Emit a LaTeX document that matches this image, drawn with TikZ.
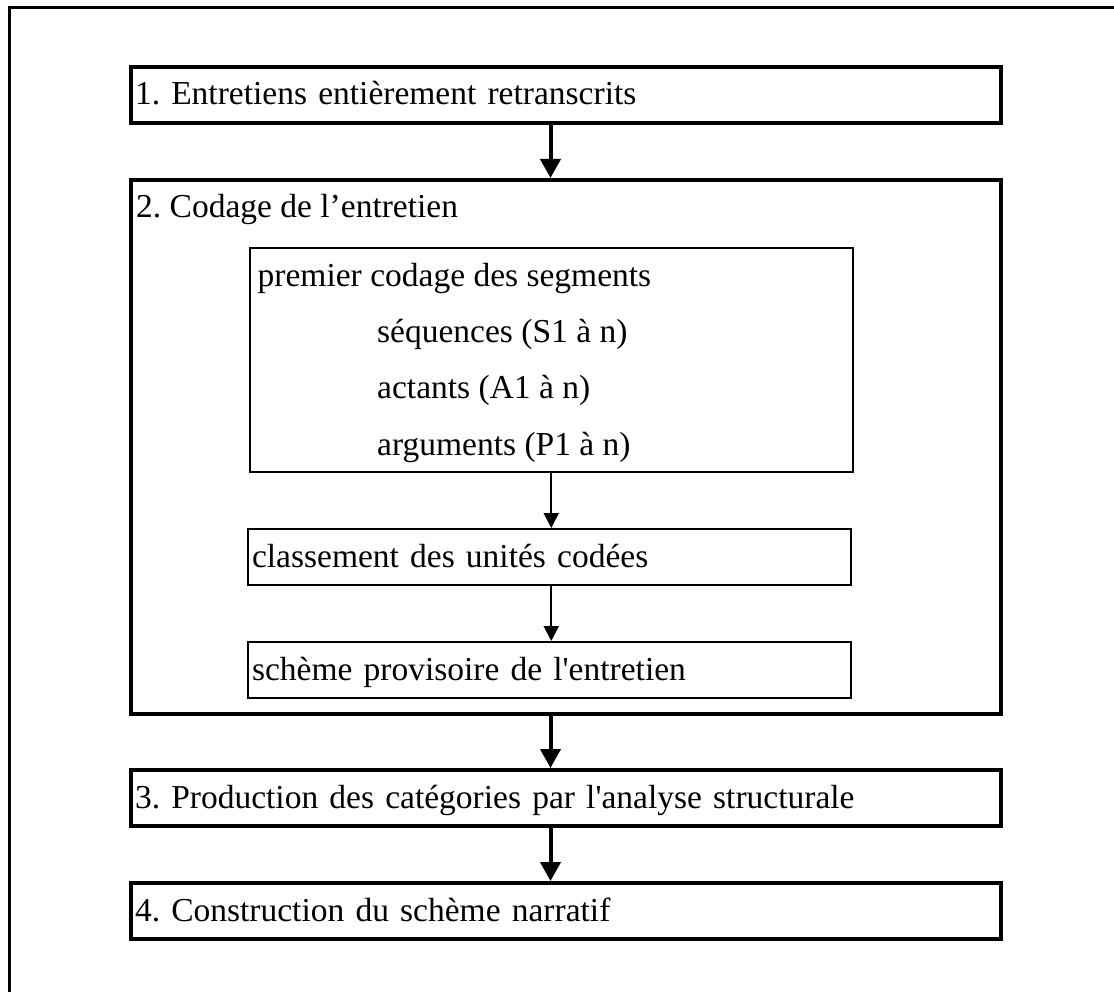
\documentclass[tikz,border=0pt]{standalone}
\usepackage{fontspec}
\setmainfont{Liberation Serif}
\usetikzlibrary{arrows.meta, positioning}
\frenchspacing

\begin{document}
\begin{tikzpicture}[x=1pt, y=-1pt,
    every node/.style={font=\fontsize{33.5}{40}\selectfont},
    phase/.style={draw, line width=4pt, minimum width=870pt, minimum height=56pt,
      text width=862pt, inner xsep=4pt, text height=25pt, text depth=5pt, align=left},
    sousetape/.style={draw, line width=2pt, minimum width=603pt, minimum height=56pt,
      text width=595pt, inner xsep=4pt, text height=25pt, text depth=5pt, align=left},
    texte/.style={anchor=base west, inner sep=0pt},
    fleche/.style={line width=4pt, -{Triangle[length=19pt, width=20pt]}},
    petitefleche/.style={line width=2pt, -{Triangle[length=15pt, width=15pt]}}]
    \useasboundingbox (0,0) rectangle (1114,992);
    % cadre
    \draw[line width=3pt] (9.5,992) -- (9.5,7.5) -- (1114,7.5);
    % etapes
    \node[phase] (b1) at (566,95) {1. Entretiens entièrement retranscrits};
    \node[phase, minimum height=534pt] (b2) at (566,447) {};
    \node[texte] (t2) at (136,218) {2. Codage de l’entretien};
    \node[sousetape, minimum width=600pt, minimum height=223.5pt] (seg) at (551.25,360.25) {};
    \node[texte] (seg0) at (257.5,287) {premier codage des segments};
    \node[texte] (seg1) at (377,343) {séquences (S1 à n)};
    \node[texte] (seg2) at (377,399) {actants (A1 à n)};
    \node[texte] (seg3) at (377,455) {arguments (P1 à n)};
    \node[sousetape] (cls) at (549.5,557) {classement des unités codées};
    \node[sousetape] (sch) at (549.5,670) {schème provisoire de l\textquotesingle entretien};
    \node[phase] (b3) at (566,798) {3. Production des catégories par l\textquotesingle analyse structurale};
    \node[phase] (b4) at (566,911) {4. Construction du schème narratif};
    % fleches
    \draw[fleche] ([xshift=-15.5pt]b1.south) -- ([xshift=-15.5pt]b2.north);
    \draw[petitefleche] (seg.south) -- (seg.south |- cls.north);
    \draw[petitefleche] (seg.south |- cls.south) -- (seg.south |- sch.north);
    \draw[fleche] ([xshift=-15.5pt]b2.south) -- ([xshift=-15.5pt]b3.north);
    \draw[fleche] ([xshift=-15.5pt]b3.south) -- ([xshift=-15.5pt]b4.north);
\end{tikzpicture}
\end{document}
